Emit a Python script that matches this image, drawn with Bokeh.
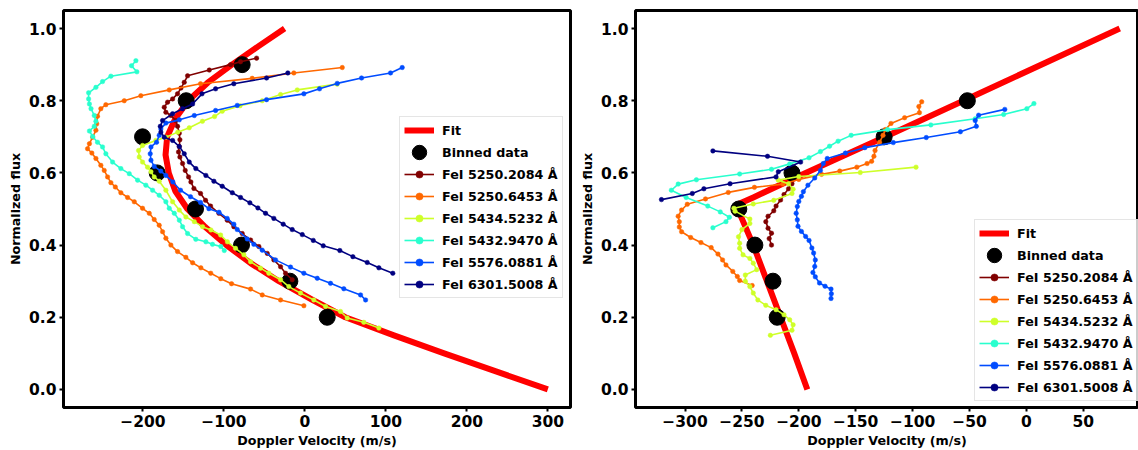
from bokeh.plotting import figure
from bokeh.models import Legend, LegendItem, CustomJSTickFormatter, FixedTicker, Range1d
from bokeh.layouts import row
from bokeh.embed import file_html
from bokeh.resources import INLINE

# ---------------- data ----------------
line_labels = ["FeI 5250.2084 Å", "FeI 5250.6453 Å", "FeI 5434.5232 Å",
               "FeI 5432.9470 Å", "FeI 5576.0881 Å", "FeI 6301.5008 Å"]
line_colors = ["#800000", "#ff6800", "#ceff29", "#29ffce", "#004cff", "#000080"]

y_ticks = [0.0, 0.2, 0.4, 0.6, 0.8, 1.0]
x_ticks_left = [-200, -100, 0, 100, 200, 300]
x_ticks_right = [-300, -250, -200, -150, -100, -50, 0, 50]

# ----- left panel -----
fit_left_y = [0.00, 0.05, 0.10, 0.15, 0.20, 0.25, 0.30, 0.35, 0.40, 0.45, 0.50,
              0.55, 0.60, 0.65, 0.70, 0.75, 0.80, 0.85, 0.90, 0.95, 1.00]
fit_left_x = [300, 236, 172, 110, 50, 8, -32, -67, -97, -123, -145,
              -160, -168, -172, -170, -160, -144, -120, -90, -58, -25]

binned_left_x = [27.6, -18.5, -78.2, -135.0, -182.3, -200.4, -146.5, -77.4]
binned_left_y = [0.2, 0.3, 0.4, 0.5, 0.6, 0.7, 0.8, 0.9]

l5250a_x = [-59.6, -79.4, -91.7, -118, -144.8, -148.9, -153, -157.2, -163.3, -169.5, -173.6, -171.6,
            -165.4, -159.3, -157.2, -155, -154.3, -155, -156, -154.3, -151, -147.7, -143.6, -140.7,
            -137, -128.8, -122.6, -116.4, -106.1, -95.8, -87.7, -77.3, -67, -56.8, -46.4, -38.3,
            -30, -23.8, -15.6]
l5250a_y = [0.918, 0.908, 0.900, 0.885, 0.869, 0.851, 0.835, 0.819, 0.805, 0.796, 0.782, 0.768,
            0.759, 0.745, 0.729, 0.710, 0.692, 0.673, 0.658, 0.644, 0.626, 0.607, 0.589, 0.575,
            0.557, 0.543, 0.524, 0.508, 0.488, 0.469, 0.451, 0.432, 0.414, 0.396, 0.377, 0.359,
            0.340, 0.322, 0.304]

l5250b_x = [46.2, -13.6, -65, -128.8, -167.4, -202.5, -223, -245.7, -251.9, -256, -257, -258,
            -262, -266, -268.3, -263, -258, -251.9, -247.7, -243.6, -239.5, -234, -227.2, -218.9,
            -210.6, -200.4, -192.1, -186, -179.8, -175.7, -171.6, -165.4, -157.2, -146.9, -138.6,
            -128.4, -116.2, -103.8, -90.5, -67, -52.6, -30, -1.2]
l5250b_y = [0.892, 0.877, 0.862, 0.847, 0.830, 0.814, 0.800, 0.789, 0.778, 0.757, 0.736, 0.718,
            0.699, 0.681, 0.667, 0.655, 0.640, 0.621, 0.607, 0.589, 0.573, 0.561, 0.545, 0.532,
            0.520, 0.502, 0.488, 0.471, 0.455, 0.437, 0.419, 0.400, 0.382, 0.366, 0.351,
            0.337, 0.322, 0.307, 0.293, 0.278, 0.262, 0.248, 0.232]

l5434_x = [39.9, -9.4, -30, -52.6, -80, -102, -111.5, -126.5, -142.7, -157, -171.6, -184,
           -200.4, -205.3, -204.5, -200.4, -194.2, -190, -186, -179.8, -171.6, -163.3, -155,
           -146.9, -136.5, -126.3, -116, -104, -95.6, -85.6, -75.3, -67, -54.7, -44.4, -30,
           -19.8, -5.3, 11.1, 25.6, 44, 52.3, 72.8, 91.4]
l5434_y = [0.846, 0.830, 0.817, 0.800, 0.786, 0.771, 0.756, 0.743, 0.725, 0.713, 0.699, 0.690,
           0.676, 0.662, 0.644, 0.630, 0.616, 0.603, 0.589, 0.577, 0.552, 0.520, 0.497,
           0.478, 0.465, 0.451, 0.442, 0.428, 0.409, 0.391, 0.373, 0.354, 0.336, 0.322, 0.304,
           0.285, 0.267, 0.248, 0.230, 0.216, 0.198, 0.186, 0.170]

l5432_x = [-208.6, -214, -207.4, -239.5, -249.8, -258, -267, -267, -266, -264, -260, -258,
           -260, -266, -262, -256, -249.8, -245.7, -237.4, -227.2, -216.8, -206.5, -196.3, -188,
           -179.8, -171.6, -167.4, -161.2, -155, -151, -144.8, -134.6, -122.2, -114, -103.7, -99.5]
l5432_y = [0.911, 0.897, 0.880, 0.868, 0.853, 0.837, 0.822, 0.805, 0.791, 0.778, 0.759, 0.743,
           0.729, 0.716, 0.701, 0.685, 0.672, 0.653, 0.630, 0.612, 0.598, 0.580, 0.566, 0.552,
           0.538, 0.520, 0.502, 0.488, 0.469, 0.451, 0.432, 0.416, 0.409, 0.402, 0.396, 0.385]

l5576_x = [120.2, 105.8, 70, 40, 18.1, -1.2, -47.3, -83.5, -110.2, -136.5, -155, -171.6,
           -177.8, -179.8, -183.1, -190, -190.9, -190, -186, -177.8, -171.6, -163, -153.5,
           -141.2, -128.8, -118.5, -106, -95.9, -87.7, -83.5, -71.2, -63, -52.6, -36.2, -17.7,
           -1.2, 15.3, 31.7, 48.1, 68.8, 75]
l5576_y = [0.892, 0.877, 0.863, 0.848, 0.833, 0.819, 0.803, 0.787, 0.773, 0.759, 0.747, 0.738,
           0.722, 0.704, 0.685, 0.672, 0.653, 0.635, 0.618, 0.605, 0.593, 0.575, 0.552,
           0.534, 0.518, 0.501, 0.491, 0.474, 0.458, 0.443, 0.417, 0.402, 0.386, 0.359, 0.339,
           0.322, 0.308, 0.294, 0.279, 0.262, 0.248]

l6301_x = [-21, -47.3, -87.7, -110.2, -127, -138.6, -151, -163.3, -175.7, -178.5, -177.8, -173.6,
           -163.3, -155, -148.9, -142.7, -134.6, -122.2, -112.3, -102, -89.6, -79.4, -67.9, -58,
           -48.5, -38.3, -26.7, -15.6, -3.2, 10.4, 22.7, 43.2, 59.3, 77, 91.4, 108.6]
l6301_y = [0.877, 0.863, 0.847, 0.833, 0.819, 0.791, 0.778, 0.764, 0.745, 0.729, 0.713, 0.699,
           0.690, 0.673, 0.653, 0.630, 0.612, 0.593, 0.577, 0.563, 0.545, 0.532, 0.517, 0.503,
           0.488, 0.474, 0.458, 0.443, 0.429, 0.413, 0.398, 0.385, 0.368, 0.352, 0.337, 0.322]

# ----- right panel -----
fit_right_x = [82, -52, -125, -194, -240, -252, -256, -252, -240, -228, -216, -204, -192.5]
fit_right_y = [1.0, 0.805, 0.699, 0.600, 0.532, 0.515, 0.502, 0.488, 0.40, 0.30, 0.20, 0.10, 0.0]

binned_right_x = [-219.0, -222.7, -238.6, -252.7, -206.0, -125.0, -51.9]
binned_right_y = [0.2, 0.3, 0.4, 0.5, 0.6, 0.7, 0.8]

r5250a_x = [-206, -209, -213, -216, -220, -222, -227, -229, -227, -224, -226, -224]
r5250a_y = [0.570, 0.556, 0.540, 0.525, 0.508, 0.495, 0.480, 0.465, 0.447, 0.433, 0.418, 0.400]

r5250b_x = [-92, -94.5, -94, -107, -119, -124, -126, -129, -133, -134, -136, -140, -149, -164,
            -180, -200, -214, -239, -262, -282, -298, -303, -306, -305, -305, -303, -295, -286,
            -277, -271, -267, -264, -258, -254, -252, -241]
r5250b_y = [0.797, 0.784, 0.767, 0.753, 0.737, 0.720, 0.704, 0.685, 0.662, 0.646, 0.632, 0.626,
            0.616, 0.605, 0.596, 0.582, 0.569, 0.560, 0.546, 0.528, 0.513, 0.497, 0.480, 0.465,
            0.450, 0.437, 0.421, 0.407, 0.393, 0.375, 0.359, 0.345, 0.327, 0.313, 0.302, 0.288]

r5434_x = [-97, -146, -200, -218, -209, -205, -206, -222, -240, -257, -256, -243, -243, -250,
           -253, -252, -252, -249, -243, -240, -237, -247, -247, -243, -240, -236, -229, -220,
           -213, -208, -205, -206, -225]
r5434_y = [0.616, 0.601, 0.590, 0.580, 0.570, 0.555, 0.543, 0.524, 0.514, 0.502, 0.494, 0.472,
           0.460, 0.443, 0.423, 0.405, 0.391, 0.373, 0.363, 0.350, 0.332, 0.317, 0.300, 0.285,
           0.267, 0.248, 0.233, 0.221, 0.207, 0.193, 0.179, 0.164, 0.150]

r5432_x = [6.6, 0.4, -20, -45, -84, -122, -154, -165.5, -173, -181, -191, -208, -224, -252,
           -290, -306, -312, -299, -280, -269, -261, -264, -275.5]
r5432_y = [0.792, 0.778, 0.762, 0.750, 0.733, 0.720, 0.704, 0.688, 0.674, 0.659, 0.642, 0.625,
           0.610, 0.597, 0.581, 0.569, 0.552, 0.532, 0.508, 0.492, 0.477, 0.465, 0.448]

r5576_x = [-19, -42, -45, -44, -58, -88, -117, -142, -159, -175, -178.5, -181, -186, -192, -196,
           -197.7, -200, -201.3, -202.3, -201.3, -200.7, -197.7, -194, -191, -188.5, -187,
           -185.5, -186, -187.6, -185.5, -181.8, -176.9, -171.7, -171.4, -171.7]
r5576_y = [0.776, 0.760, 0.745, 0.729, 0.714, 0.698, 0.684, 0.670, 0.655, 0.640, 0.626, 0.607,
           0.586, 0.566, 0.548, 0.535, 0.521, 0.507, 0.488, 0.470, 0.452, 0.438, 0.424, 0.413,
           0.392, 0.378, 0.359, 0.341, 0.324, 0.312, 0.295, 0.286, 0.278, 0.265, 0.252]

r6301_x = [-275.5, -227.5, -198.4, -218, -220, -260.4, -283.4, -293.6, -320.7]
r6301_y = [0.661, 0.646, 0.630, 0.603, 0.589, 0.570, 0.556, 0.543, 0.526]

left_series = [(l5250a_x, l5250a_y), (l5250b_x, l5250b_y), (l5434_x, l5434_y),
               (l5432_x, l5432_y), (l5576_x, l5576_y), (l6301_x, l6301_y)]
right_series = [(r5250a_x, r5250a_y), (r5250b_x, r5250b_y), (r5434_x, r5434_y),
                (r5432_x, r5432_y), (r5576_x, r5576_y), (r6301_x, r6301_y)]

# ---------------- drawing ----------------
FONT = "DejaVu Sans"
H = 450


def build(width, border_left, border_right, xr, xticks, fit_x, fit_y, bin_x, bin_y, series, leg_loc):
    p = figure(width=width, height=H, x_range=Range1d(*xr), y_range=Range1d(-0.05, 1.05),
               output_backend="svg", toolbar_location=None,
               min_border_left=border_left, min_border_right=border_right,
               min_border_top=10, min_border_bottom=42)
    p.xgrid.visible = False
    p.ygrid.visible = False
    p.outline_line_color = "black"
    p.outline_line_width = 3
    p.outline_line_alpha = 1.0
    p.background_fill_color = "white"
    p.border_fill_color = "white"

    for ax in (p.xaxis[0], p.yaxis[0]):
        ax.axis_line_color = None
        ax.major_tick_out = 4
        ax.major_tick_in = 0
        ax.major_tick_line_width = 2
        ax.major_tick_line_color = "black"
        ax.minor_tick_line_color = None
        ax.major_label_text_font = FONT
        ax.major_label_text_font_style = "bold"
        ax.major_label_text_font_size = "15.5px"
        ax.major_label_text_color = "black"
        ax.axis_label_text_font = FONT
        ax.axis_label_text_font_style = "bold"
        ax.axis_label_text_font_size = "12.7px"
        ax.axis_label_text_color = "black"
        ax.major_label_standoff = 3
        ax.axis_label_standoff = 3

    p.xaxis.axis_label = "Doppler Velocity (m/s)"
    p.yaxis.axis_label = "Normalized flux"
    p.xaxis.ticker = FixedTicker(ticks=xticks)
    p.yaxis.ticker = FixedTicker(ticks=y_ticks)
    p.xaxis.formatter = CustomJSTickFormatter(
        code="return tick < 0 ? '\\u2212' + Math.abs(tick) : String(tick);")
    p.yaxis.formatter = CustomJSTickFormatter(code="return tick.toFixed(1);")

    fit_r = p.line(fit_x, fit_y, line_color="red", line_width=6, line_join="round")
    bin_r = p.ellipse(bin_x, bin_y, width=16, height=16, width_units="screen",
                      height_units="screen", fill_color="black", line_color="black")
    items = [LegendItem(label="Fit", renderers=[fit_r]),
             LegendItem(label="Binned data", renderers=[bin_r])]
    for (sx, sy), col, lab in zip(series, line_colors, line_labels):
        lr = p.line(sx, sy, line_color=col, line_width=1.6)
        mr = p.scatter(sx, sy, size=4.5, marker="circle", fill_color=col, line_color=col, line_width=0.5)
        items.append(LegendItem(label=lab, renderers=[lr, mr]))

    leg = Legend(items=items, location=leg_loc, margin=0, padding=4, spacing=4,
                 glyph_width=30, glyph_height=18, label_height=18, label_standoff=8,
                 label_text_font=FONT, label_text_font_style="bold",
                 label_text_font_size="12.7px", label_text_color="black",
                 border_line_color="#cccccc", border_line_width=1,
                 background_fill_color="white", background_fill_alpha=0.8)
    p.add_layout(leg)
    return p


p1 = build(577, 63, 7, (-298, 328), x_ticks_left, fit_left_x, fit_left_y,
           binned_left_x, binned_left_y, left_series, (336, 109))
p2 = build(561, 55, 0, (-343.5, 98.5), x_ticks_right, fit_right_x, fit_right_y,
           binned_right_x, binned_right_y, right_series, (339, 6))

layout = row(p1, p2)
with open("out.html", "w", encoding="utf-8") as f:
    f.write(file_html(layout, INLINE))
